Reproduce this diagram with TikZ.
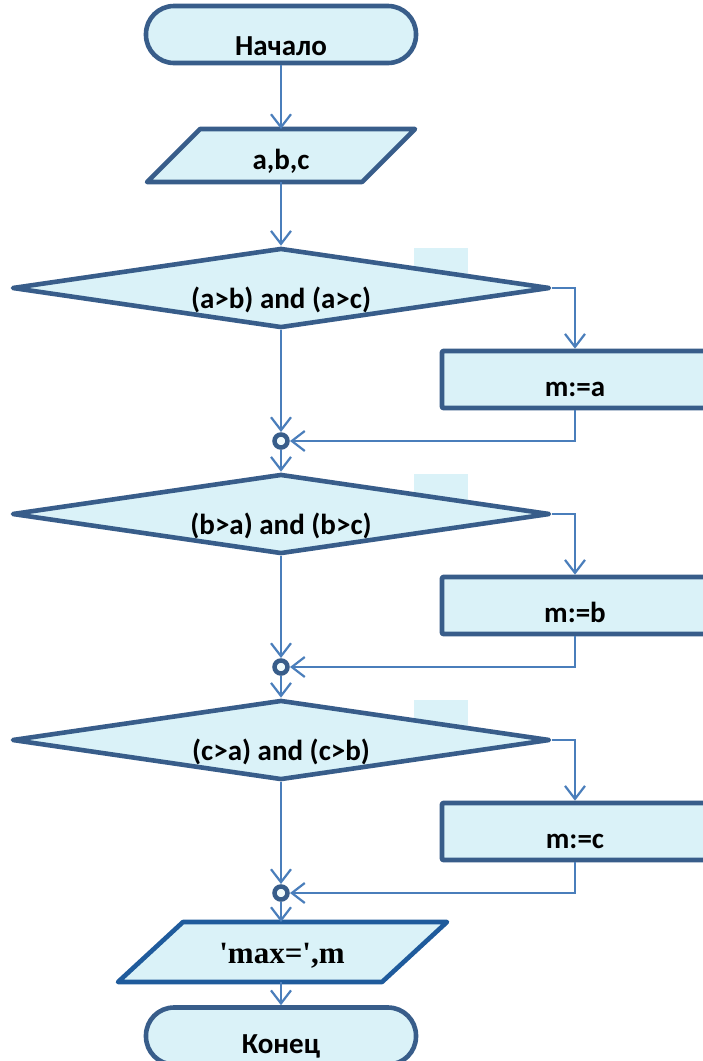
\documentclass[tikz,border=0pt]{standalone}
\usepackage{fontspec}
\setmainfont{Carlito}
\newfontfamily\outserif{Liberation Serif}
\usetikzlibrary{shapes.geometric,arrows.meta}
\definecolor{fillc}{HTML}{DAF2F8}
\definecolor{edgec}{HTML}{385D8A}
\definecolor{connc}{HTML}{4A7EBB}
\definecolor{outc}{HTML}{1F5B9C}
\begin{document}
\begin{tikzpicture}[x=1pt,y=-1pt,
  shapeline/.style={draw=edgec,line width=4.6pt,fill=fillc,line join=round},
  term/.style={shapeline,rectangle,rounded corners=28pt,minimum width=270pt,minimum height=57pt,inner sep=0pt},
  dia/.style={shapeline,diamond,aspect=6,minimum width=538pt,minimum height=80pt,inner sep=0pt},
  boxnode/.style={shapeline,rectangle,rounded corners=1pt,minimum width=266pt,minimum height=57pt,inner sep=0pt},
  junc/.style={circle,draw=edgec,line width=4.5pt,fill=fillc!40!white,minimum size=13pt,inner sep=0pt},
  tagbox/.style={rectangle,fill=fillc,minimum width=54pt,minimum height=30pt,inner sep=0pt},
  txt/.style={font=\bfseries\fontsize{29}{34}\selectfont,inner sep=0pt,anchor=base,text=black},
  outtxt/.style={font=\outserif\bfseries\fontsize{31}{36}\selectfont,inner sep=0pt,anchor=base,text=black},
  conn/.style={draw=connc,line width=2.2pt,-{Straight Barb[length=13pt,width=20pt]}}
]
\fill[white] (0,0) rectangle (702,1061);
\useasboundingbox (0,0) rectangle (702,1061);

% start
\node[term] (start) at (281,34.5) {};
\node[txt] (startT) at (281,55) {Начало};

% input parallelogram
\coordinate (p1tl) at (200,129);
\coordinate (p1tr) at (415,129);
\coordinate (p1br) at (362,182);
\coordinate (p1bl) at (147,182);
\coordinate (p1top) at (281,129);
\coordinate (p1bot) at (281,182);
\draw[shapeline] (p1tl) -- (p1tr) -- (p1br) -- (p1bl) -- cycle;
\node[txt] (p1T) at (281,169) {a,b,c};

% tag boxes behind diamonds
\node[tagbox] (r1) at (441,263) {};
\node[tagbox] (r2) at (441,489) {};
\node[tagbox] (r3) at (441,715) {};

% decisions
\node[dia] (d1) at (281,288) {};
\node[txt] (d1T) at (281,308) {(a>b) and (a>c)};
\node[dia] (d2) at (281,514) {};
\node[txt] (d2T) at (281,534) {(b>a) and (b>c)};
\node[dia] (d3) at (281,740) {};
\node[txt] (d3T) at (281,760) {(c>a) and (c>b)};

% assignment boxes
\node[boxnode] (b1) at (575,379.5) {};
\node[txt] (b1T) at (575,396) {m:=a};
\node[boxnode] (b2) at (575,605.5) {};
\node[txt] (b2T) at (575,622) {m:=b};
\node[boxnode] (b3) at (575,831.5) {};
\node[txt] (b3T) at (575,848) {m:=c};

% output parallelogram
\coordinate (p2tl) at (183,922);
\coordinate (p2tr) at (447,922);
\coordinate (p2br) at (382,982);
\coordinate (p2bl) at (118,982);
\coordinate (p2top) at (281,922);
\coordinate (p2bot) at (281,982);
\draw[shapeline,draw=outc] (p2tl) -- (p2tr) -- (p2br) -- (p2bl) -- cycle;
\node[outtxt] (p2T) at (282,963) {'max=',m};

% end
\node[term] (end) at (281,1036) {};
\node[txt] (endT) at (281,1053) {Конец};

% connectors
\draw[conn] (start.south) -- (p1top);
\draw[conn] (p1bot) -- (d1.north);
\draw[conn] (d1.east) -| (b1.north);
\draw[conn] (d1.south) -- (281,432);
\draw[conn] (b1.south) |- (290,441);
\draw[conn] (281,450) -- (d2.north);
\draw[conn] (d2.east) -| (b2.north);
\draw[conn] (d2.south) -- (281,658);
\draw[conn] (b2.south) |- (290,667);
\draw[conn] (281,676) -- (d3.north);
\draw[conn] (d3.east) -| (b3.north);
\draw[conn] (d3.south) -- (281,884);
\draw[conn] (b3.south) |- (290,893);
\draw[conn] (281,902) -- (p2top);
\draw[conn] (p2bot) -- (end.north);

% junctions
\node[junc] (j1) at (281,441) {};
\node[junc] (j2) at (281,667) {};
\node[junc] (j3) at (281,893) {};
\end{tikzpicture}
\end{document}
